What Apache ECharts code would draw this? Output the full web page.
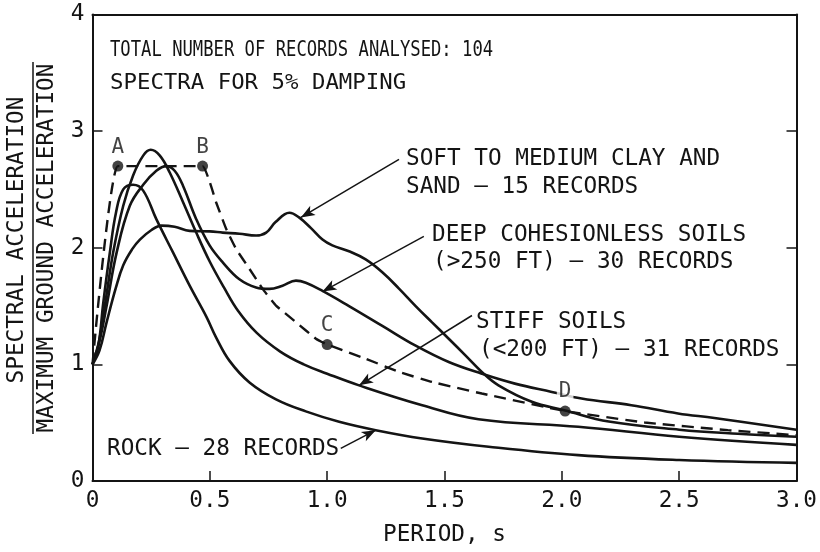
<!DOCTYPE html>
<html>
<head>
<meta charset="utf-8">
<script src="https://cdn.jsdelivr.net/npm/echarts@6/dist/echarts.min.js"></script>
<style>html,body{margin:0;padding:0;background:#fff}#c{width:820px;height:552px}</style>
</head>
<body>
<div id="c"></div>
<script>
// ---- data (period T in s, normalised spectral acceleration) ----
var xTicks = [0, 0.5, 1.0, 1.5, 2.0, 2.5, 3.0];
var yTicks = [0, 1, 2, 3, 4];

var rockT  = [0, 0.025, 0.046, 0.074, 0.1, 0.131, 0.173, 0.216, 0.272, 0.343, 0.414, 0.485, 0.527, 0.584, 0.669, 0.782, 0.909, 1.051, 1.207, 1.405, 1.688, 2.07, 2.5, 3.0];
var rockSa = [1.0, 1.16, 1.53, 1.96, 2.3, 2.50, 2.54, 2.49, 2.245, 1.96, 1.675, 1.41, 1.23, 1.03, 0.845, 0.70, 0.597, 0.508, 0.436, 0.365, 0.294, 0.222, 0.18, 0.155];

var stiffT  = [0, 0.03, 0.06, 0.088, 0.131, 0.173, 0.216, 0.248, 0.287, 0.329, 0.386, 0.442, 0.5, 0.56, 0.62, 0.7, 0.8, 0.9, 1.0, 1.136, 1.405, 1.645, 2.07, 2.5, 3.0];
var stiffSa = [1.0, 1.22, 1.6, 1.96, 2.36, 2.62, 2.79, 2.84, 2.79, 2.645, 2.39, 2.13, 1.88, 1.66, 1.46, 1.27, 1.11, 1.0, 0.92, 0.82, 0.65, 0.53, 0.465, 0.38, 0.31];

var deepT  = [0, 0.03, 0.06, 0.103, 0.159, 0.216, 0.272, 0.315, 0.35, 0.386, 0.442, 0.499, 0.555, 0.626, 0.697, 0.754, 0.81, 0.867, 0.909, 0.98, 1.093, 1.235, 1.377, 1.518, 1.659, 1.80, 1.957, 2.084, 2.296, 2.495, 2.65, 3.0];
var deepSa = [1.0, 1.2, 1.5, 1.96, 2.36, 2.54, 2.66, 2.70, 2.66, 2.53, 2.245, 2.02, 1.875, 1.73, 1.66, 1.647, 1.675, 1.718, 1.70, 1.63, 1.50, 1.33, 1.16, 1.02, 0.92, 0.835, 0.764, 0.707, 0.65, 0.579, 0.54, 0.44];

var softT  = [0, 0.03, 0.06, 0.1, 0.131, 0.17, 0.202, 0.25, 0.294, 0.35, 0.414, 0.5, 0.555, 0.626, 0.697, 0.74, 0.78, 0.839, 0.88, 0.93, 0.98, 1.022, 1.093, 1.164, 1.235, 1.306, 1.377, 1.447, 1.518, 1.589, 1.659, 1.73, 1.872, 2.01, 2.2, 2.5, 2.75, 3.0];
var softSa = [1.0, 1.12, 1.36, 1.66, 1.85, 1.99, 2.07, 2.15, 2.19, 2.18, 2.145, 2.14, 2.13, 2.12, 2.105, 2.13, 2.22, 2.30, 2.26, 2.17, 2.07, 2.02, 1.97, 1.90, 1.79, 1.65, 1.50, 1.36, 1.22, 1.077, 0.935, 0.82, 0.679, 0.607, 0.51, 0.44, 0.405, 0.38];

var designT  = [0, 0.108, 0.469, 0.527, 0.570, 0.612, 0.669, 0.725, 0.782, 0.867, 0.952, 1.0, 1.164, 1.306, 1.447, 1.659, 2.014, 2.353, 2.707, 3.0];
var designSa = [1.0, 2.70, 2.70, 2.388, 2.16, 1.989, 1.818, 1.647, 1.504, 1.362, 1.220, 1.17, 1.049, 0.935, 0.849, 0.75, 0.60, 0.502, 0.436, 0.393];

var pointNames = ['A', 'B', 'C', 'D'];
var pointT  = [0.108, 0.469, 1.0, 2.014];
var pointSa = [2.70, 2.70, 1.17, 0.60];

// annotation arrows: [fromT, fromSa, toT, toSa]
var arrowSoft  = [1.306, 2.757, 0.888, 2.26];
var arrowDeep  = [1.412, 2.097, 0.98, 1.624];
var arrowStiff = [1.617, 1.419, 1.136, 0.82];
var arrowRock  = [1.058, 0.28, 1.207, 0.436];

// ---- chart ----
function zip(a, b) { return a.map(function (v, i) { return [v, b[i]]; }); }
var INK = '#141414';
var MONO = '"DejaVu Sans Mono", "Liberation Mono", monospace';
var BIG = 22.7;

var chart = echarts.init(document.getElementById('c'), null, {renderer: 'canvas'});

function curve(name, T, S, extra) {
  var s = {
    name: name, type: 'line', data: zip(T, S), smooth: 0.4,
    symbol: 'none', silent: true,
    lineStyle: {color: INK, width: 2.6}
  };
  for (var k in extra) s[k] = extra[k];
  return s;
}
function arrow(a) { return [{coord: [a[0], a[1]]}, {coord: [a[2], a[3]]}]; }
function txt(x, y, s, size, sx) {
  return {type: 'text', x: x, y: y, scaleX: sx || 1,
    style: {text: s, fontFamily: MONO, fontSize: size || BIG, fill: INK, verticalAlign: 'middle'}};
}

var option = {
  animation: false,
  backgroundColor: '#fff',
  grid: {left: 92.5, right: 21, top: 14.5, bottom: 69.3, show: false},
  xAxis: [{
    type: 'value', min: 0, max: 3, interval: 0.5,
    name: 'PERIOD, s', nameLocation: 'middle', nameGap: 43,
    nameTextStyle: {fontFamily: MONO, fontSize: BIG, color: INK},
    axisLine: {show: true, lineStyle: {color: INK, width: 2}},
    axisTick: {show: true, inside: true, length: 10, lineStyle: {color: INK, width: 1.5}},
    axisLabel: {margin: 9, fontFamily: MONO, fontSize: BIG, color: INK,
      formatter: function (v) { return v === 0 ? '0' : v.toFixed(1); }},
    splitLine: {show: false}
  }, {
    type: 'value', min: 0, max: 3, position: 'top',
    axisLine: {show: true, onZero: false, lineStyle: {color: INK, width: 2}},
    axisTick: {show: false}, axisLabel: {show: false}, splitLine: {show: false}
  }],
  yAxis: [{
    type: 'value', min: 0, max: 4, interval: 1,
    axisLine: {show: true, onZero: false, lineStyle: {color: INK, width: 2}},
    axisTick: {show: true, inside: true, length: 10, lineStyle: {color: INK, width: 1.5}},
    axisLabel: {margin: 8, fontFamily: MONO, fontSize: BIG, color: INK},
    splitLine: {show: false}
  }, {
    type: 'value', min: 0, max: 4, interval: 1, position: 'right',
    axisLine: {show: true, onZero: false, lineStyle: {color: INK, width: 2}},
    axisTick: {show: true, inside: true, length: 10, lineStyle: {color: INK, width: 1.5}},
    axisLabel: {show: false}, splitLine: {show: false}
  }],
  series: [
    curve('Rock', rockT, rockSa),
    curve('Stiff soils', stiffT, stiffSa),
    curve('Deep cohesionless soils', deepT, deepSa),
    curve('Soft to medium clay and sand', softT, softSa),
    curve('Design', designT, designSa, {
      smooth: 0.1,
      lineStyle: {color: INK, width: 2.4, type: [12, 7]},
      markLine: {
        silent: true, symbol: ['none', 'arrow'], symbolSize: [8, 14],
        label: {show: false},
        lineStyle: {color: INK, width: 1.5, type: 'solid'},
        data: [arrow(arrowSoft), arrow(arrowDeep), arrow(arrowStiff), arrow(arrowRock)]
      }
    }),
    {
      name: 'Points', type: 'scatter', silent: true, symbolSize: 11,
      itemStyle: {color: INK},
      data: pointNames.map(function (n, i) {
        var d = {name: n, value: [pointT[i], pointSa[i]]};
        if (n === 'D') d.label = {backgroundColor: '#fff', padding: [0, 2, 0, 2]};
        return d;
      }),
      label: {show: true, position: 'top', distance: 3, formatter: '{b}',
        fontFamily: MONO, fontSize: 21, color: INK},
      z: 5
    }
  ],
  graphic: [
    txt(110, 50, 'TOTAL NUMBER OF RECORDS ANALYSED: 104', 21.5, 0.8),
    txt(110, 83, 'SPECTRA FOR 5% DAMPING', 21.5, 1.04),
    txt(406, 159, 'SOFT TO MEDIUM CLAY AND'),
    txt(406, 187, 'SAND \u2014 15 RECORDS'),
    txt(432, 235, 'DEEP COHESIONLESS SOILS'),
    txt(433, 262, '(>250 FT) \u2014 30 RECORDS'),
    txt(476, 322, 'STIFF SOILS'),
    txt(479, 350, '(<200 FT) \u2014 31 RECORDS'),
    txt(107, 449, 'ROCK \u2014 28 RECORDS'),
    {type: 'text', x: 17, y: 240, rotation: Math.PI / 2, style: {text: 'SPECTRAL ACCELERATION', fontFamily: MONO, fontSize: BIG, fill: INK, align: 'center', verticalAlign: 'middle'}},
    {type: 'text', x: 47, y: 248, rotation: Math.PI / 2, style: {text: 'MAXIMUM GROUND ACCELERATION', fontFamily: MONO, fontSize: BIG, fill: INK, align: 'center', verticalAlign: 'middle'}},
    {type: 'line', shape: {x1: 33, y1: 62, x2: 33, y2: 434}, style: {stroke: INK, lineWidth: 1.5}}
  ]
};
chart.setOption(option);
</script>
</body>
</html>
